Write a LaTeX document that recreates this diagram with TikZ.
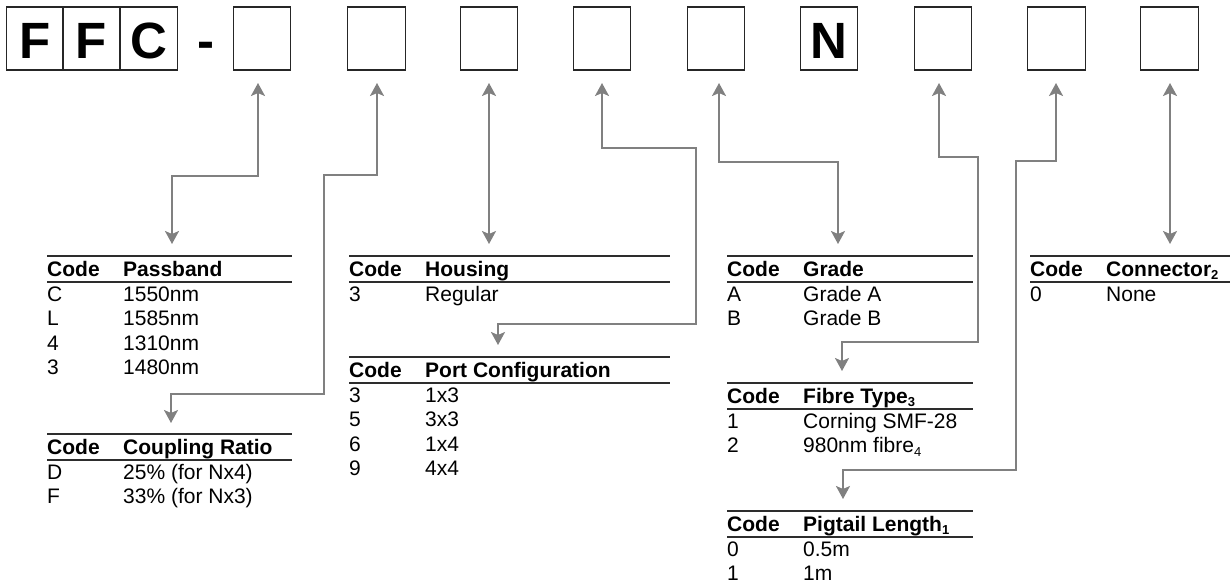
\documentclass[tikz,border=0pt]{standalone}
\usepackage{fontspec}
\setmainfont{Liberation Sans}
\usetikzlibrary{arrows.meta}
\definecolor{conngray}{RGB}{128,128,128}
\definecolor{rulegray}{RGB}{45,45,45}
\newcommand\sbs[1]{\raisebox{-0.16em}{\fontsize{13}{13}\selectfont #1}}
\tikzset{
  codebox/.style={draw=black!85, line width=1.3pt, minimum width=57.5pt, minimum height=63pt,
    inner sep=0pt, font=\fontsize{51}{51}\selectfont\bfseries, text height=39pt, text depth=0pt},
  conn/.style={draw=conngray, line width=2pt,
    {Stealth[length=13pt,width=14pt,inset=3pt]}-{Stealth[length=13pt,width=14pt,inset=3pt]}},
  hd/.style={anchor=base west, inner sep=0pt, font=\fontsize{21}{25}\selectfont\bfseries},
  cell/.style={anchor=base west, inner sep=0pt, font=\fontsize{21}{25}\selectfont},
  trule/.style={draw=rulegray, line width=1.3pt}
}
% #1 name, #2 x, #3 top rule y, #4 right end x, #5 header, #6 rows code/value
\newcommand\codetable[6]{%
  \draw[trule] (#2,#3) -- (#4,#3);
  \node[hd] (#1-c) at (#2,#3+20.5) {Code};
  \node[hd] (#1-h) at (#2+76,#3+20.5) {#5};
  \draw[trule] (#2,#3+26) -- (#4,#3+26);
  \foreach \cc/\vv [count=\i] in {#6} {
    \node[cell] (#1-c\i) at (#2,#3+45.5+24.3*\i-24.3) {\cc};
    \node[cell] (#1-v\i) at (#2+76,#3+45.5+24.3*\i-24.3) {\vv};
  }%
}
\begin{document}
\begin{tikzpicture}[x=1pt,y=-1pt]
\useasboundingbox (0,0) rectangle (1230,582);

% top code boxes
\node[codebox] (f1) at (35,38.5) {F};
\node[codebox] (f2) at (91.5,38.5) {F};
\node[codebox] (f3) at (148.5,38.5) {C};
\node[anchor=base, inner sep=0pt, font=\fontsize{51}{51}\selectfont\bfseries] (dash) at (206,58) {-};
\node[codebox] (b1) at (262,38.5) {};
\node[codebox] (b2) at (376.5,38.5) {};
\node[codebox] (b3) at (489,38.5) {};
\node[codebox] (b4) at (602,38.5) {};
\node[codebox] (b5) at (716,38.5) {};
\node[codebox] (bn) at (829,38.5) {N};
\node[codebox] (b7) at (943,38.5) {};
\node[codebox] (b8) at (1056.5,38.5) {};
\node[codebox] (b9) at (1169.5,38.5) {};

% tables
\codetable{pb}{47}{256}{292}{Passband}{C/1550nm, L/1585nm, 4/1310nm, 3/1480nm}
\codetable{cr}{47}{434}{292}{Coupling Ratio}{D/25\% (for Nx4), F/33\% (for Nx3)}
\codetable{ho}{349}{256}{670}{Housing}{3/Regular}
\codetable{pc}{349}{357}{670}{Port Configuration}{3/1x3, 5/3x3, 6/1x4, 9/4x4}
\codetable{gr}{727}{256}{973}{Grade}{A/Grade A, B/Grade B}
\codetable{ft}{727}{383}{973}{Fibre Type\sbs{3}}{1/Corning SMF-28, 2/980nm fibre\sbs{4}}
\codetable{pl}{727}{511}{973}{Pigtail Length\sbs{1}}{0/0.5m, 1/1m}
\codetable{co}{1030}{256}{1232}{Connector\sbs{2}}{0/None}

% connector ends
\coordinate (u1) at (258,83);   \coordinate (d1) at (172,244);
\coordinate (u2) at (377,83);   \coordinate (d2) at (171,423);
\coordinate (u3) at (489,83);   \coordinate (d3) at (489,244);
\coordinate (u4) at (602,83);   \coordinate (d4) at (498,345);
\coordinate (u5) at (719,83);   \coordinate (d5) at (838,244);
\coordinate (u7) at (939,83);   \coordinate (d7) at (842,371);
\coordinate (u8) at (1056,83);  \coordinate (d8) at (843,499);
\coordinate (u9) at (1170,83);  \coordinate (d9) at (1170,244);

\draw[conn] (u1) -- (258,176) -- (172,176) -- (d1);
\draw[conn] (u2) -- (377,175) -- (324,175) -- (324,394) -- (171,394) -- (d2);
\draw[conn] (u3) -- (d3);
\draw[conn] (u4) -- (602,148) -- (696,148) -- (696,324) -- (498,324) -- (d4);
\draw[conn] (u5) -- (719,162) -- (838,162) -- (d5);
\draw[conn] (u7) -- (939,157) -- (978,157) -- (978,342) -- (842,342) -- (d7);
\draw[conn] (u8) -- (1056,161) -- (1016,161) -- (1016,470) -- (843,470) -- (d8);
\draw[conn] (u9) -- (d9);
\end{tikzpicture}
\end{document}
